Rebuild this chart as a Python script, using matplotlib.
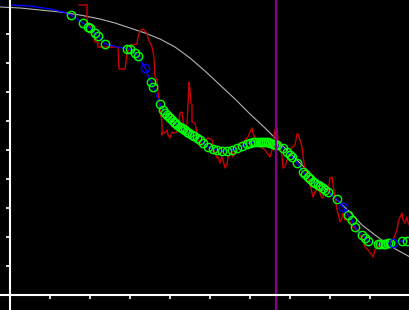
import numpy as np
import matplotlib
matplotlib.use('Agg')
import matplotlib.pyplot as plt

# smooth reference curve (gray)
gray_x = [-10, 10, 30, 50, 70, 90, 105, 120, 135, 150, 165, 180, 195, 210, 225, 240, 255, 267,
          280, 295, 310, 327, 340, 352, 365, 380, 400]
gray_y = [288, 287, 285, 283, 280, 276, 272, 267, 262, 256, 248, 237, 224, 210, 196, 181, 167, 155,
          142, 127, 112, 95, 83, 70, 60, 49, 38]

# fitted curve (blue) - first 4 points have no marker
fit_x = [0, 20, 40, 53,
         61, 73, 78, 80, 85, 88, 95, 117, 120, 125, 128, 135, 141, 143, 150, 153,
         155, 157, 159, 160, 162, 164, 165, 167, 170, 172, 173, 175, 177, 179, 182, 184,
         187, 190, 193, 198, 203, 207, 212, 217, 222, 227, 232, 237, 240, 243, 245, 248,
         250, 252, 254, 256, 258, 260, 263, 265, 267, 273, 277, 280, 282, 287, 293, 295,
         298, 300, 303, 305, 308, 310, 313, 315, 318, 327, 333, 338, 342, 345, 352, 355,
         358, 368, 370, 373, 375, 378, 380, 383, 392, 397]
fit_y = [290, 289, 286, 283,
         280, 272, 268, 267, 262, 259, 251, 246, 246, 242, 239, 227, 213, 208, 191, 185,
         182, 180, 178, 177, 175, 173, 172, 170, 168, 167, 166, 165, 163, 162, 160, 159,
         157, 155, 152, 148, 146, 145, 144, 144, 145, 147, 149, 151, 152, 153, 153, 153,
         153, 153, 153, 153, 153, 152, 151, 150, 150, 147, 143, 140, 138, 132, 123, 121,
         118, 116, 113, 112, 110, 109, 107, 105, 103, 96, 88, 80, 75, 68, 60, 57,
         54, 51, 51, 51, 51, 52, 52, 52, 54, 54]
blue_pts = [135, 333, 383]

# raw signal (red)
raw_x = [69, 77, 77, 82, 84, 85, 88, 88, 108, 109, 115, 116, 117, 121, 127, 128, 130, 133, 135, 137,
         138, 140, 142, 143, 144, 145, 147, 148, 150, 152, 152, 153, 155, 157, 158, 160, 162, 163, 167, 168,
         170, 172, 173, 173, 175, 177, 178, 179, 180, 181, 182, 182, 185, 187, 188, 190, 192, 193, 195, 198,
         202, 203, 205, 207, 208, 210, 212, 213, 215, 217, 218, 220, 222, 223, 225, 227, 228, 232, 235, 238,
         240, 242, 243, 245, 248, 250, 252, 255, 257, 260, 262, 263, 265, 267, 268, 270, 272, 273, 275, 277,
         278, 280, 282, 283, 285, 287, 288, 290, 292, 293, 294, 295, 297, 298, 300, 302, 303, 305, 308, 310,
         312, 313, 315, 318, 320, 322, 323, 325, 327, 328, 330, 332, 333, 335, 338, 340, 342, 345, 348, 352,
         355, 358, 362, 363, 365, 370, 373, 378, 383, 387, 388, 390, 392, 393, 395, 397, 398, 400]
raw_y = [290, 290, 272, 267, 258, 253, 253, 248, 248, 226, 226, 233, 242, 250, 251, 258, 264, 266, 264, 262,
         257, 252, 248, 243, 237, 218, 215, 203, 188, 172, 160, 163, 162, 165, 160, 157, 163, 162, 163, 168,
         182, 183, 175, 168, 167, 170, 190, 213, 205, 192, 190, 173, 172, 162, 155, 153, 150, 150, 155, 157,
         155, 148, 142, 137, 138, 132, 138, 135, 127, 130, 138, 140, 143, 138, 143, 148, 150, 152, 155, 158,
         163, 167, 162, 157, 153, 150, 147, 145, 142, 138, 145, 152, 165, 167, 155, 152, 138, 127, 128, 135,
         137, 145, 148, 148, 150, 161, 161, 155, 148, 140, 132, 125, 122, 117, 112, 102, 98, 103, 107, 102,
         97, 98, 103, 103, 117, 118, 110, 98, 85, 82, 73, 77, 82, 75, 75, 73, 68, 67, 62, 57,
         48, 45, 40, 38, 45, 50, 52, 52, 55, 65, 72, 78, 82, 75, 72, 78, 73, 68]

marker_x = 266

fig = plt.figure(figsize=(4.1, 3.1), dpi=100, facecolor='black')
ax = fig.add_axes([0, 0, 1, 1])
ax.set_facecolor('black')

ax.plot(gray_x, gray_y, color='#b4b4b4', lw=0.8, clip_on=False)
ax.plot(raw_x, raw_y, color='#c80000', lw=1.0)
ax.plot(fit_x, fit_y, color='#0000ff', lw=1.0)

mx = np.array(fit_x[4:])
my = np.array(fit_y[4:])
is_blue = np.isin(mx, blue_pts)
ax.plot(mx[~is_blue], my[~is_blue], 'o', mfc='none', mec='#00ff00', ms=6, mew=1.0)
ax.plot(mx[is_blue], my[is_blue], 'o', mfc='none', mec='#0000ff', ms=6, mew=1.0)

ax.axvline(marker_x, color='#8b008b', lw=1.6)

ax.set_xlim(-10, 400)
ax.set_ylim(-15, 295)

for s in ['top', 'right']:
    ax.spines[s].set_visible(False)
ax.spines['left'].set_position(('data', 0))
ax.spines['bottom'].set_position(('data', 0))
for s in ['left', 'bottom']:
    ax.spines[s].set_color('white')
    ax.spines[s].set_linewidth(1.5)
    ax.spines[s].set_zorder(5)

ax.set_xticks(np.arange(0, 401, 40))
ax.set_yticks(np.arange(0, 290, 29))
ax.tick_params(colors='white', direction='out', length=3, width=1.2,
               labelbottom=False, labelleft=False)

fig.savefig('out.png', dpi=100, facecolor='black')
